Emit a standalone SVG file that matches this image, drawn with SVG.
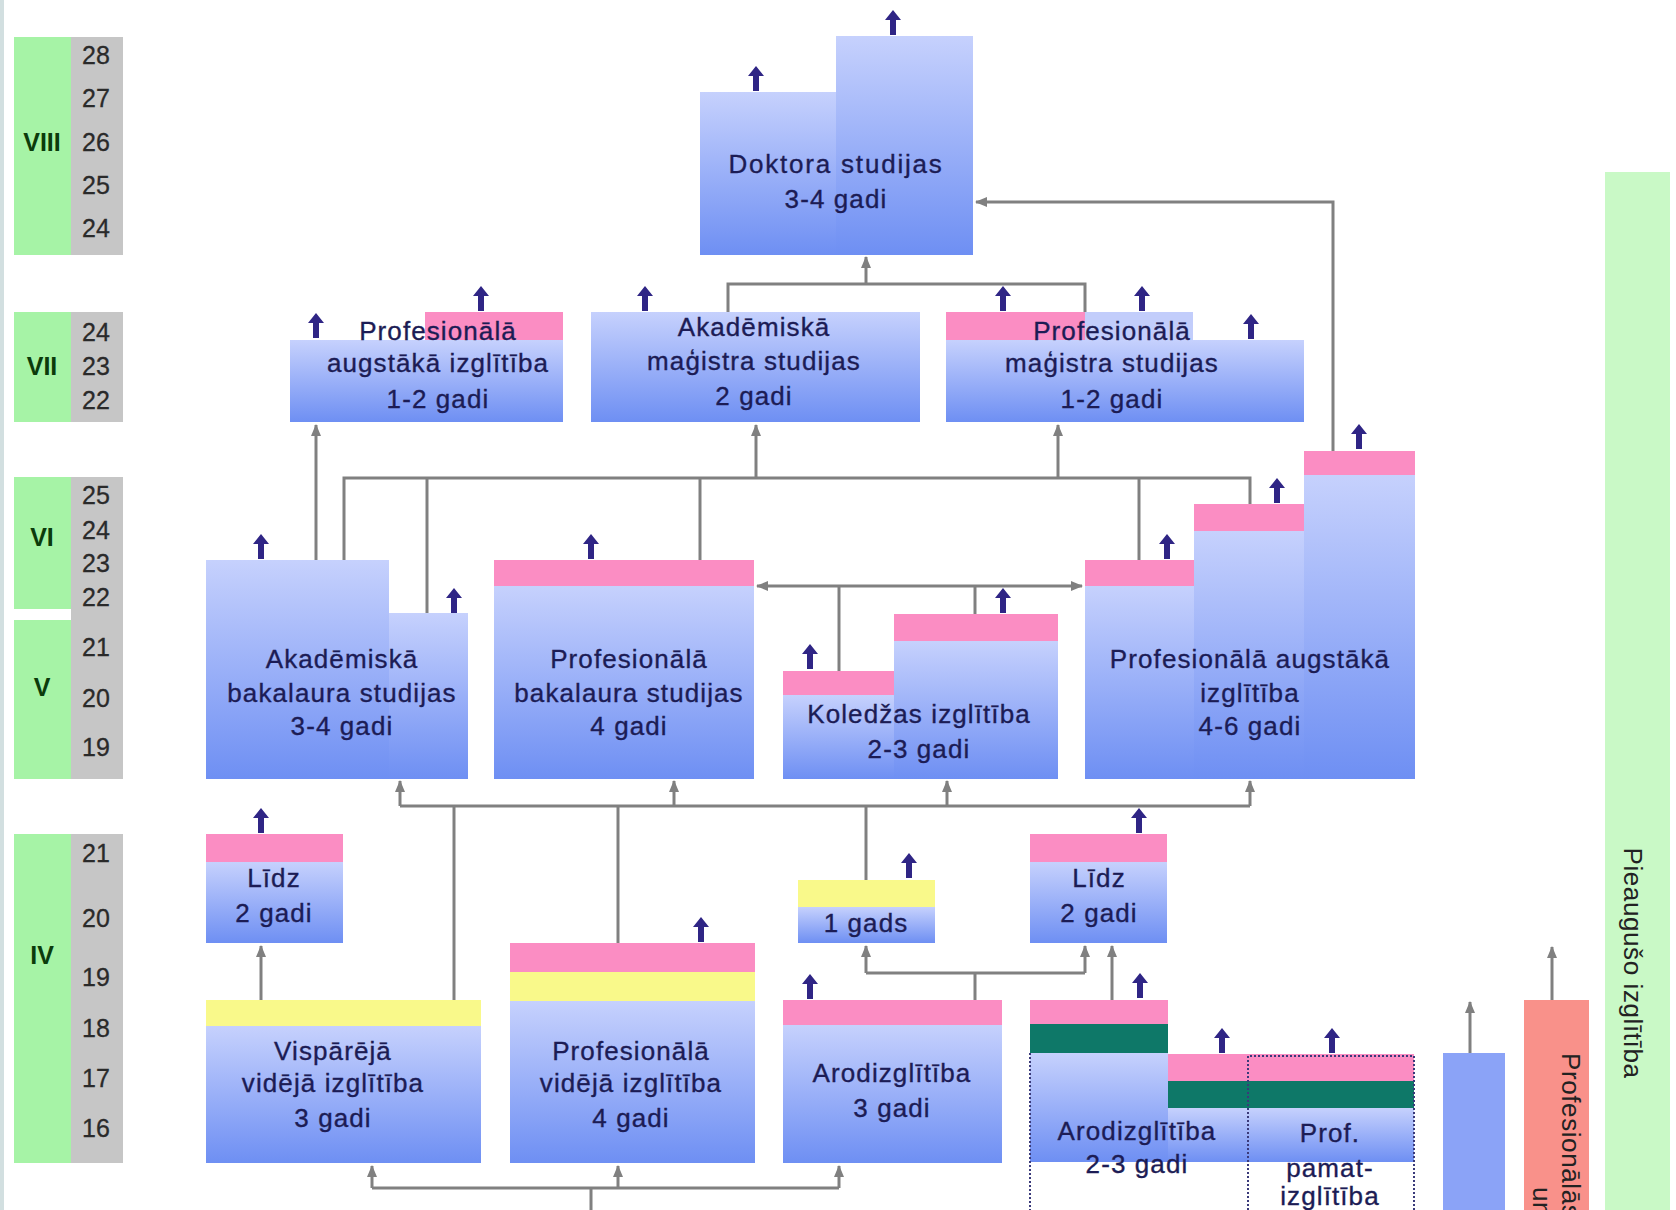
<svg xmlns="http://www.w3.org/2000/svg" xmlns:xlink="http://www.w3.org/1999/xlink" width="1676" height="1210" viewBox="0 0 1676 1210">
<style>
.lbl{font-family:"Liberation Sans",Arial,sans-serif;font-size:26px;fill:#1c1c55;stroke:#1c1c55;stroke-width:0.35px;text-anchor:middle;letter-spacing:1.1px}
.num{font-family:"Liberation Sans",Arial,sans-serif;font-size:25px;fill:#2a2a2a;stroke:#2a2a2a;stroke-width:0.3px;text-anchor:middle}
.rom{font-family:"Liberation Sans",Arial,sans-serif;font-size:25px;font-weight:bold;fill:#0b3b0b;text-anchor:middle}
.vt{font-family:"Liberation Sans",Arial,sans-serif;font-size:26px;fill:#222;letter-spacing:0.6px}
.conn{stroke:#808080;stroke-width:3;fill:none}
.blue{fill:url(#bg)}
.pink{fill:#fb8dc3}
.yel{fill:#f9f98a}
.teal{fill:#0e7868}
.lgreen{fill:#a6f3a6}
.lgray{fill:#c6c6c6}
.dot{stroke:#3a3a7a;stroke-width:2;stroke-dasharray:2 2;fill:none}
</style>
<defs>
<linearGradient id="bg" x1="0" y1="0" x2="0" y2="1">
<stop offset="0" stop-color="#c6d1fd"/>
<stop offset="1" stop-color="#6e8ff3"/>
</linearGradient>
<marker id="ah" viewBox="0 0 12 12" refX="11" refY="6" markerWidth="12" markerHeight="12" markerUnits="userSpaceOnUse" orient="auto-start-reverse">
<path d="M0,1 L12,6 L0,11 Z" fill="#808080"/>
</marker>
<path id="ba" d="M0,0 L8,10 L3,10 L3,25 L-3,25 L-3,10 L-8,10 Z" fill="#2f2585"/>
</defs>
<rect x="0" y="0" width="1676" height="1210" fill="#ffffff"/>
<rect x="0" y="0" width="4" height="1210" fill="#d2dfe0"/>

<g id="level-VIII">
<rect x="14" y="37" width="57" height="218" class="lgreen"/>
<rect x="71" y="37" width="52" height="218" class="lgray"/>
<text x="42" y="151" class="rom">VIII</text>
<text x="96" y="64" class="num">28</text>
<text x="96" y="107" class="num">27</text>
<text x="96" y="151" class="num">26</text>
<text x="96" y="194" class="num">25</text>
<text x="96" y="237" class="num">24</text>
</g>
<g id="level-VII">
<rect x="14" y="312" width="57" height="110" class="lgreen"/>
<rect x="71" y="312" width="52" height="110" class="lgray"/>
<text x="42" y="375" class="rom">VII</text>
<text x="96" y="341" class="num">24</text>
<text x="96" y="375" class="num">23</text>
<text x="96" y="409" class="num">22</text>
</g>
<g id="level-VI-V">
<rect x="14" y="477" width="57" height="132" class="lgreen"/>
<rect x="14" y="620" width="57" height="159" class="lgreen"/>
<rect x="71" y="477" width="52" height="302" class="lgray"/>
<text x="42" y="546" class="rom">VI</text>
<text x="42" y="696" class="rom">V</text>
<text x="96" y="504" class="num">25</text>
<text x="96" y="539" class="num">24</text>
<text x="96" y="572" class="num">23</text>
<text x="96" y="606" class="num">22</text>
<text x="96" y="656" class="num">21</text>
<text x="96" y="707" class="num">20</text>
<text x="96" y="756" class="num">19</text>
</g>
<g id="level-IV">
<rect x="14" y="834" width="57" height="329" class="lgreen"/>
<rect x="71" y="834" width="52" height="329" class="lgray"/>
<text x="42" y="964" class="rom">IV</text>
<text x="96" y="862" class="num">21</text>
<text x="96" y="927" class="num">20</text>
<text x="96" y="986" class="num">19</text>
<text x="96" y="1037" class="num">18</text>
<text x="96" y="1087" class="num">17</text>
<text x="96" y="1137" class="num">16</text>
</g>

<g id="connectors">
<path class="conn" d="M728,312 V284 H1085 V312"/>
<path class="conn" d="M866,284 V257" marker-end="url(#ah)"/>
<path class="conn" d="M1333,451 V202 H976" marker-end="url(#ah)"/>
<path class="conn" d="M344,560 V478 H1250 V504"/>
<path class="conn" d="M427,613 V478"/>
<path class="conn" d="M700,560 V478"/>
<path class="conn" d="M1139,560 V478"/>
<path class="conn" d="M756,478 V425" marker-end="url(#ah)"/>
<path class="conn" d="M1058,478 V425" marker-end="url(#ah)"/>
<path class="conn" d="M316,560 V425" marker-end="url(#ah)"/>
<path class="conn" d="M757,586 H1082" marker-start="url(#ah)" marker-end="url(#ah)"/>
<path class="conn" d="M839,671 V586"/>
<path class="conn" d="M975,614 V586"/>
<path class="conn" d="M400,806 H1250"/>
<path class="conn" d="M400,806 V781" marker-end="url(#ah)"/>
<path class="conn" d="M674,806 V781" marker-end="url(#ah)"/>
<path class="conn" d="M947,806 V781" marker-end="url(#ah)"/>
<path class="conn" d="M1250,806 V781" marker-end="url(#ah)"/>
<path class="conn" d="M454,1000 V806"/>
<path class="conn" d="M618,943 V806"/>
<path class="conn" d="M866,880 V806"/>
<path class="conn" d="M261,1000 V946" marker-end="url(#ah)"/>
<path class="conn" d="M975,1000 V973 M866,973 H1085"/>
<path class="conn" d="M866,973 V946" marker-end="url(#ah)"/>
<path class="conn" d="M1085,973 V946" marker-end="url(#ah)"/>
<path class="conn" d="M1112,1000 V946" marker-end="url(#ah)"/>
<path class="conn" d="M372,1188 H839 M591,1210 V1188"/>
<path class="conn" d="M372,1188 V1166" marker-end="url(#ah)"/>
<path class="conn" d="M618,1188 V1166" marker-end="url(#ah)"/>
<path class="conn" d="M839,1188 V1166" marker-end="url(#ah)"/>
<path class="conn" d="M1470,1053 V1002" marker-end="url(#ah)"/>
<path class="conn" d="M1552,1000 V947" marker-end="url(#ah)"/>
</g>

<g id="doktora">
<rect x="700" y="92" width="136" height="163" class="blue"/>
<rect x="836" y="36" width="137" height="219" class="blue"/>
<use href="#ba" x="756" y="66"/>
<use href="#ba" x="893" y="10"/>
<text x="836" y="173" class="lbl" style="letter-spacing:1.8px">Doktora studijas</text>
<text x="836" y="208" class="lbl">3-4 gadi</text>
</g>

<g id="prof-augst-1-2">
<rect x="425" y="312" width="138" height="28" class="pink"/>
<rect x="290" y="340" width="273" height="82" class="blue"/>
<use href="#ba" x="316" y="313"/>
<use href="#ba" x="481" y="286"/>
<text x="438" y="340" class="lbl">Profesionālā</text>
<text x="438" y="372" class="lbl">augstākā izglītība</text>
<text x="438" y="408" class="lbl">1-2 gadi</text>
</g>

<g id="akad-magistra">
<rect x="591" y="312" width="329" height="110" class="blue"/>
<use href="#ba" x="645" y="286"/>
<text x="754" y="336" class="lbl">Akadēmiskā</text>
<text x="754" y="370" class="lbl">maģistra studijas</text>
<text x="754" y="405" class="lbl">2 gadi</text>
</g>

<g id="prof-magistra">
<rect x="946" y="312" width="139" height="28" class="pink"/>
<rect x="1085" y="312" width="108" height="28" fill="#c2cdfb"/>
<rect x="946" y="340" width="358" height="82" class="blue"/>
<use href="#ba" x="1003" y="286"/>
<use href="#ba" x="1142" y="286"/>
<use href="#ba" x="1251" y="314"/>
<text x="1112" y="340" class="lbl">Profesionālā</text>
<text x="1112" y="372" class="lbl">maģistra studijas</text>
<text x="1112" y="408" class="lbl">1-2 gadi</text>
</g>

<g id="akad-bakalaura">
<rect x="206" y="560" width="183" height="219" class="blue"/>
<rect x="389" y="613" width="79" height="166" class="blue"/>
<use href="#ba" x="261" y="534"/>
<use href="#ba" x="454" y="588"/>
<text x="342" y="668" class="lbl">Akadēmiskā</text>
<text x="342" y="702" class="lbl">bakalaura studijas</text>
<text x="342" y="735" class="lbl">3-4 gadi</text>
</g>

<g id="prof-bakalaura">
<rect x="494" y="560" width="260" height="26" class="pink"/>
<rect x="494" y="586" width="260" height="193" class="blue"/>
<use href="#ba" x="591" y="534"/>
<text x="629" y="668" class="lbl">Profesionālā</text>
<text x="629" y="702" class="lbl">bakalaura studijas</text>
<text x="629" y="735" class="lbl">4 gadi</text>
</g>

<g id="koledza">
<rect x="783" y="671" width="111" height="24" class="pink"/>
<rect x="783" y="695" width="111" height="84" class="blue"/>
<rect x="894" y="614" width="164" height="27" class="pink"/>
<rect x="894" y="641" width="164" height="138" class="blue"/>
<use href="#ba" x="810" y="644"/>
<use href="#ba" x="1003" y="588"/>
<text x="919" y="723" class="lbl">Koledžas izglītība</text>
<text x="919" y="758" class="lbl">2-3 gadi</text>
</g>

<g id="prof-augst-4-6">
<rect x="1085" y="560" width="109" height="26" class="pink"/>
<rect x="1085" y="586" width="109" height="193" class="blue"/>
<rect x="1194" y="504" width="110" height="27" class="pink"/>
<rect x="1194" y="531" width="110" height="248" class="blue"/>
<rect x="1304" y="451" width="111" height="24" class="pink"/>
<rect x="1304" y="475" width="111" height="304" class="blue"/>
<use href="#ba" x="1167" y="534"/>
<use href="#ba" x="1277" y="478"/>
<use href="#ba" x="1359" y="424"/>
<text x="1250" y="668" class="lbl">Profesionālā augstākā</text>
<text x="1250" y="702" class="lbl">izglītība</text>
<text x="1250" y="735" class="lbl">4-6 gadi</text>
</g>

<g id="lidz-left">
<rect x="206" y="834" width="137" height="28" class="pink"/>
<rect x="206" y="862" width="137" height="81" class="blue"/>
<use href="#ba" x="261" y="808"/>
<text x="274" y="887" class="lbl">Līdz</text>
<text x="274" y="922" class="lbl">2 gadi</text>
</g>

<g id="visparejā">
<rect x="206" y="1000" width="275" height="26" class="yel"/>
<rect x="206" y="1026" width="275" height="137" class="blue"/>
<text x="333" y="1060" class="lbl">Vispārējā</text>
<text x="333" y="1092" class="lbl">vidējā izglītība</text>
<text x="333" y="1127" class="lbl">3 gadi</text>
</g>

<g id="prof-videja">
<rect x="510" y="943" width="245" height="29" class="pink"/>
<rect x="510" y="972" width="245" height="29" class="yel"/>
<rect x="510" y="1001" width="245" height="162" class="blue"/>
<use href="#ba" x="701" y="917"/>
<text x="631" y="1060" class="lbl">Profesionālā</text>
<text x="631" y="1092" class="lbl">vidējā izglītība</text>
<text x="631" y="1127" class="lbl">4 gadi</text>
</g>

<g id="viens-gads">
<rect x="798" y="880" width="137" height="27" class="yel"/>
<rect x="798" y="907" width="137" height="36" class="blue"/>
<use href="#ba" x="909" y="853"/>
<text x="866" y="932" class="lbl">1 gads</text>
</g>

<g id="arodizglitiba-3">
<rect x="783" y="1000" width="219" height="25" class="pink"/>
<rect x="783" y="1025" width="219" height="138" class="blue"/>
<use href="#ba" x="810" y="974"/>
<text x="892" y="1082" class="lbl">Arodizglītība</text>
<text x="892" y="1117" class="lbl">3 gadi</text>
</g>

<g id="lidz-right">
<rect x="1030" y="834" width="137" height="28" class="pink"/>
<rect x="1030" y="862" width="137" height="81" class="blue"/>
<use href="#ba" x="1139" y="808"/>
<text x="1099" y="887" class="lbl">Līdz</text>
<text x="1099" y="922" class="lbl">2 gadi</text>
</g>

<g id="arodizglitiba-2-3">
<rect x="1030" y="1000" width="138" height="24" class="pink"/>
<rect x="1030" y="1024" width="138" height="29" class="teal"/>
<rect x="1030" y="1053" width="138" height="109" class="blue"/>
<rect x="1168" y="1054" width="246" height="27" class="pink"/>
<rect x="1168" y="1081" width="246" height="27" class="teal"/>
<rect x="1168" y="1108" width="246" height="54" class="blue"/>
<path class="dot" d="M1030,1053 V1210"/>
<use href="#ba" x="1140" y="973"/>
<use href="#ba" x="1222" y="1028"/>
<text x="1137" y="1140" class="lbl">Arodizglītība</text>
<text x="1137" y="1173" class="lbl">2-3 gadi</text>
</g>

<g id="prof-pamatizglitiba">
<path class="dot" d="M1248,1210 V1056 H1414 V1210"/>
<use href="#ba" x="1332" y="1028"/>
<text x="1330" y="1142" class="lbl">Prof.</text>
<text x="1330" y="1177" class="lbl">pamat-</text>
<text x="1330" y="1205" class="lbl">izglītība</text>
</g>

<g id="blue-bar">
<rect x="1443" y="1053" width="62" height="157" fill="#8ba3f7"/>
</g>

<g id="profesionalas-un">
<rect x="1524" y="1000" width="65" height="210" fill="#f9918a"/>
<text class="vt" transform="translate(1562,1053) rotate(90)">Profesionālās</text>
<text class="vt" transform="translate(1533,1187) rotate(90)">un</text>
</g>

<g id="pieauguso">
<rect x="1605" y="172" width="65" height="1038" fill="#c9f9c6"/>
<text class="vt" text-anchor="middle" transform="translate(1624,963) rotate(90)">Pieaugušo izglītība</text>
</g>
</svg>
